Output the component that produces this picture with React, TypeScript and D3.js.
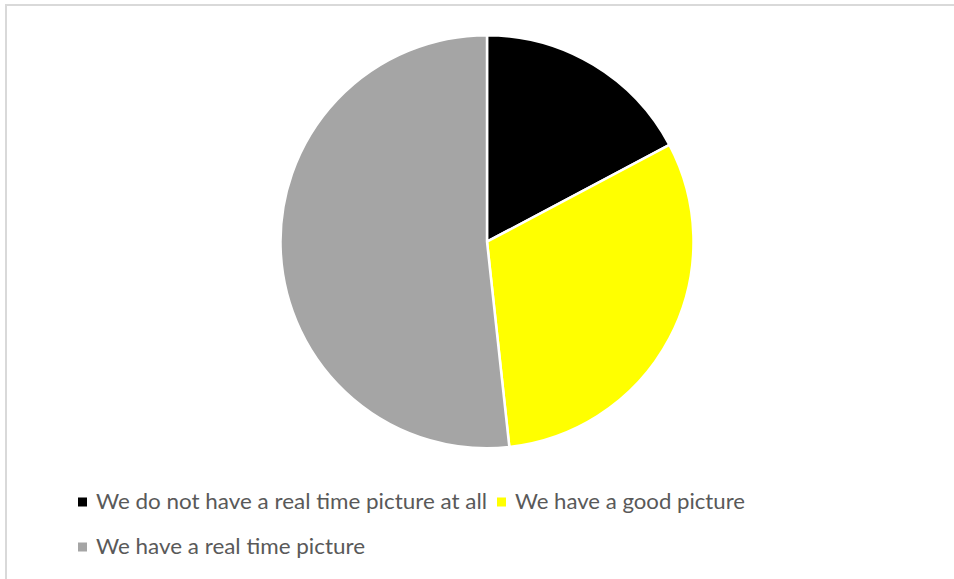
import React from "react";
import * as d3 from "d3";

const categories = [
  "We do not have a real time picture at all",
  "We have a good picture",
  "We have a real time picture",
];
const values = [10, 18, 30];
const colors = ["#000000", "#FFFF00", "#A5A5A5"];

const W = 954;
const H = 579;

export default function App() {
  const cx = 487;
  const cy = 241.7;
  const r = 206.5;
  const pie = d3.pie<number>().sort(null).value((d) => d);
  const arcs = pie(values);
  const arc = d3.arc<d3.PieArcDatum<number>>().innerRadius(0).outerRadius(r);

  const legend = [
    { i: 0, mx: 78, tx: 96, y: 502, len: 391 },
    { i: 1, mx: 497, tx: 515, y: 502, len: 230 },
    { i: 2, mx: 78, tx: 96, y: 547, len: 269 },
  ];

  return (
    <svg
      width={W}
      height={H}
      style={{ position: "absolute", left: 0, top: 0, background: "#fff" }}
    >
      <rect x={0} y={0} width={W} height={H} fill="#fff" />
      <line x1={5} y1={5} x2={W} y2={5} stroke="#d9d9d9" strokeWidth={2} />
      <line x1={6} y1={4} x2={6} y2={H} stroke="#d9d9d9" strokeWidth={2} />
      <g transform={`translate(${cx},${cy})`}>
        {arcs.map((a, i) => (
          <path
            key={i}
            d={arc(a) || ""}
            fill={colors[i]}
            stroke="#fff"
            strokeWidth={2.5}
            strokeLinejoin="round"
          />
        ))}
      </g>
      {legend.map((l) => (
        <g key={l.i}>
          <rect x={l.mx} y={l.y - 4.5} width={9} height={9} fill={colors[l.i]} />
          <text
            x={l.tx}
            y={l.y}
            dy="0.35em"
            fontFamily="Lato, 'Open Sans', sans-serif"
            fontSize={21}
            fill="#595959"
            textLength={l.len}
            lengthAdjust="spacingAndGlyphs"
          >
            {categories[l.i]}
          </text>
        </g>
      ))}
    </svg>
  );
}
